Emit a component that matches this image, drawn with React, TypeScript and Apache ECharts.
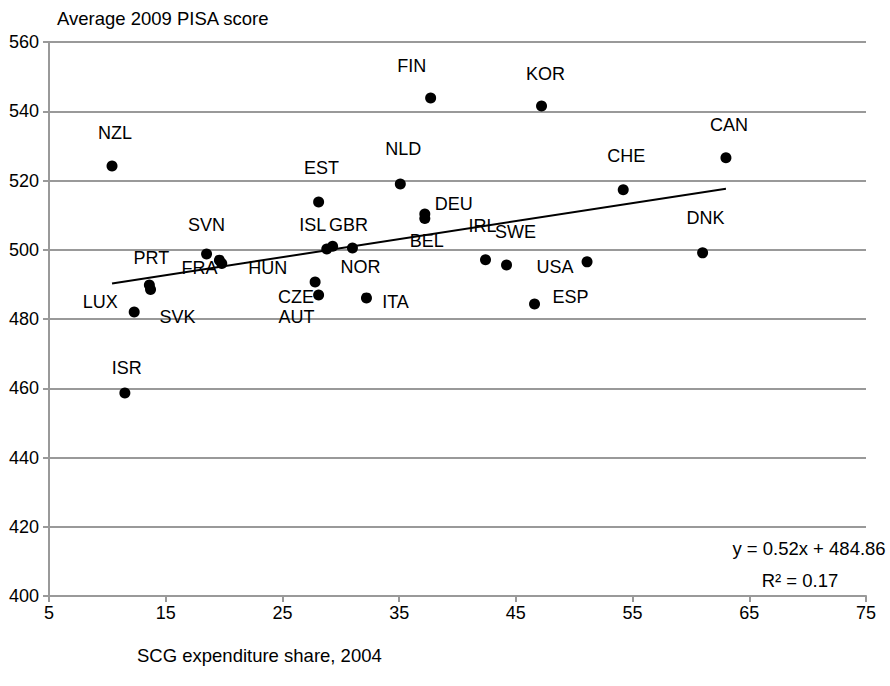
import React, { useEffect, useRef } from "react";
import * as echarts from "echarts";

const countries = ["NZL","FIN","KOR","CAN","CHE","DNK","NLD","EST","DEU","BEL","IRL","SWE","USA","ESP","ITA","NOR","ISL","GBR","CZE","AUT","SVN","FRA","HUN","PRT","SVK","LUX","ISR"];
const scgShare = [10.4,37.7,47.2,63.0,54.2,61.0,35.1,28.1,37.2,37.2,42.4,44.2,51.1,46.6,32.2,31.0,28.8,29.3,27.8,28.1,18.5,19.6,19.8,13.6,13.7,12.3,11.5];
const pisaScore = [524.2,543.8,541.5,526.6,517.3,499.1,519.0,513.8,510.3,509.0,497.1,495.6,496.5,484.3,486.1,500.5,500.2,501.0,490.7,486.9,498.8,497.0,496.0,489.8,488.5,482.0,458.6];
const labelOffsets = [[3,-33],[-19,-32],[4,-32],[3,-33],[3,-34],[3,-35],[3,-35],[3,-34],[29,-10],[2,22],[-3,-34],[9,-33],[-32,5],[36,-7],[29,4],[8,19],[-14,-24],[16,-21],[-19,15],[-22,22],[0,-29],[-20,8],[46,4],[2,-27],[27,27],[-34,-10],[2,-25]];

const slope = 0.52;
const intercept = 484.86;
const trendX = [10.4, 63.0];
const xTicks = [5, 15, 25, 35, 45, 55, 65, 75];
const yTicks = [400, 420, 440, 460, 480, 500, 520, 540, 560];

const FONT = "'Liberation Sans', Arial, sans-serif";

export default function App() {
  const ref = useRef<HTMLDivElement>(null);
  useEffect(() => {
    if (!ref.current) return;
    const chart = echarts.init(ref.current, undefined, { renderer: "svg" });
    const pts = countries.map((c, i) => ({
      name: c,
      value: [scgShare[i], pisaScore[i]],
      label: { offset: labelOffsets[i] },
    }));
    chart.setOption({
      animation: false,
      backgroundColor: "#fff",
      textStyle: { fontFamily: FONT },
      grid: { left: 49, right: 24, top: 42, bottom: 90, containLabel: false },
      xAxis: {
        type: "value",
        min: xTicks[0],
        max: xTicks[xTicks.length - 1],
        interval: 10,
        axisLine: { show: true, lineStyle: { color: "#999", width: 2 } },
        axisTick: { show: true, length: 6, lineStyle: { color: "#999", width: 2 } },
        axisLabel: { color: "#000", fontSize: 18, margin: 8, fontFamily: FONT },
        splitLine: { show: false },
        name: "SCG expenditure share, 2004",
        nameLocation: "start",
        nameGap: 0,
        nameTextStyle: { color: "#000", fontSize: 18.5, fontFamily: FONT, align: "left", verticalAlign: "top", padding: [50, 0, 0, 88] },
      },
      yAxis: {
        type: "value",
        min: yTicks[0],
        max: yTicks[yTicks.length - 1],
        interval: 20,
        axisLine: { show: true, lineStyle: { color: "#999", width: 2 } },
        axisTick: { show: true, length: 6, lineStyle: { color: "#999", width: 2 } },
        axisLabel: { color: "#000", fontSize: 18, margin: 10, fontFamily: FONT },
        splitLine: { show: true, lineStyle: { color: "#999", width: 2 } },
        name: "Average 2009 PISA score",
        nameLocation: "end",
        nameGap: 14,
        nameTextStyle: { color: "#000", fontSize: 18.5, fontFamily: FONT, align: "left", padding: [0, 0, 0, 8] },
      },
      series: [
        {
          type: "line",
          data: trendX.map((x) => [x, slope * x + intercept]),
          symbol: "none",
          lineStyle: { color: "#000", width: 2 },
          z: 3,
        },
        {
          type: "scatter",
          data: pts,
          symbol: "circle",
          symbolSize: 11,
          itemStyle: { color: "#000", opacity: 1 },
          label: {
            show: true,
            position: "inside",
            formatter: "{b}",
            color: "#000",
            fontSize: 18,
            fontFamily: FONT,
          },
          z: 4,
        },
      ],
      graphic: [
        {
          type: "text",
          x: 809,
          y: 548,
          style: { text: "y = 0.52x + 484.86", fontSize: 18.5, fontFamily: FONT, fill: "#000", align: "center", verticalAlign: "middle" },
        },
        {
          type: "text",
          x: 800,
          y: 580,
          style: { text: "R² = 0.17", fontSize: 18.5, fontFamily: FONT, fill: "#000", align: "center", verticalAlign: "middle" },
        },
      ],
    });
    return () => chart.dispose();
  }, []);
  return <div ref={ref} style={{ width: 890, height: 686, position: "absolute", left: 0, top: 0 }} />;
}
